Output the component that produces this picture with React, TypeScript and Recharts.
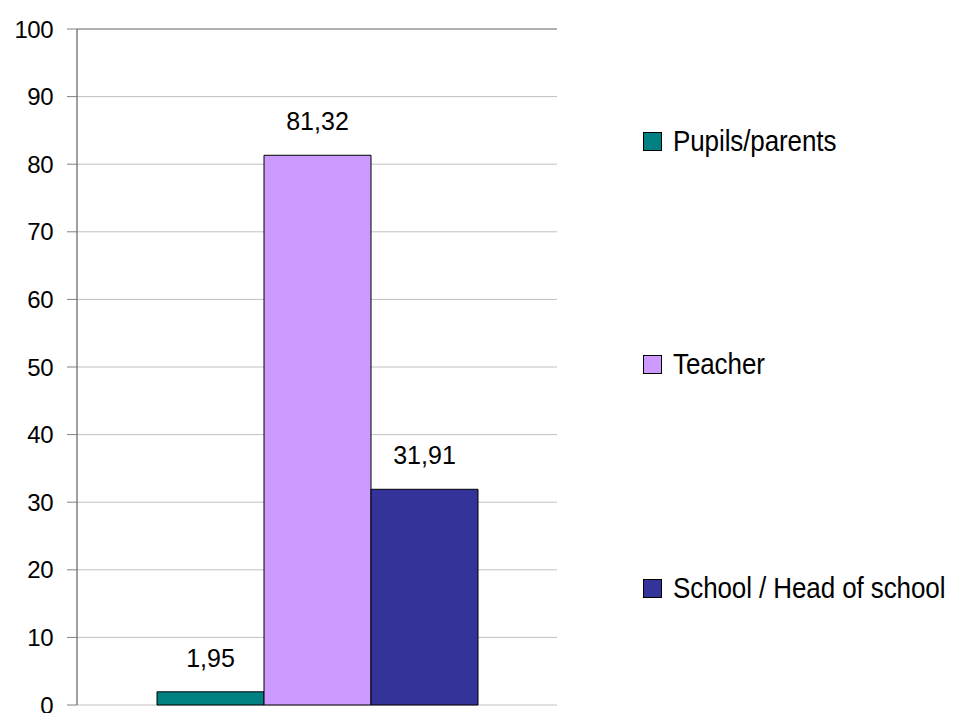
import { BarChart, Bar, XAxis, YAxis, CartesianGrid, Legend, LabelList, ReferenceLine } from "recharts";

const categories = [""];
const seriesNames = ["Pupils/parents", "Teacher", "School / Head of school"];
const seriesKeys = ["pupils", "teacher", "school"];
const seriesValues = [1.95, 81.32, 31.91];
const seriesColors = ["#008080", "#CC99FF", "#333399"];
const yTicks = [0, 10, 20, 30, 40, 50, 60, 70, 80, 90, 100];

const FONT = "'Liberation Sans', Arial, sans-serif";

const data = categories.map((name) => {
  const row: Record<string, string | number> = { name };
  seriesKeys.forEach((k, i) => {
    row[k] = seriesValues[i];
  });
  return row;
});

const fmt = (v: any) => Number(v).toFixed(2).replace(".", ",");

function LegendBox() {
  return (
    <div
      style={{
        display: "flex",
        flexDirection: "column",
        justifyContent: "space-between",
        height: "100%",
      }}
    >
      {seriesNames.map((name, i) => (
        <div key={name} style={{ display: "flex", alignItems: "center", height: 30 }}>
          <span
            style={{
              display: "inline-block",
              flexShrink: 0,
              width: 17,
              height: 17,
              background: seriesColors[i],
              border: "1px solid #000",
              marginRight: 11,
            }}
          />
          <span
            style={{
              display: "inline-block",
              fontFamily: FONT,
              fontSize: 26,
              letterSpacing: -0.1,
              color: "#000",
              whiteSpace: "nowrap",
              transform: "scaleY(1.12)",
            }}
          >
            {name}
          </span>
        </div>
      ))}
    </div>
  );
}

export default function App() {
  return (
    <div style={{ position: "absolute", left: 0, top: 0, width: 965, height: 713, background: "#fff" }}>
      <BarChart
        width={965}
        height={713}
        data={data}
        margin={{ top: 29, right: 408, bottom: 8, left: 0 }}
        barCategoryGap={80}
        barGap={0}
      >
        <CartesianGrid horizontal vertical={false} stroke="#c0c0c0" />
        <XAxis dataKey="name" tick={false} tickLine={false} height={0} axisLine={{ stroke: "#808080" }} />
        <YAxis
          domain={[0, 100]}
          ticks={yTicks}
          width={77}
          tickSize={10}
          tickMargin={14}
          interval={0}
          axisLine={{ stroke: "#404040" }}
          tickLine={{ stroke: "#808080" }}
          tick={{ fill: "#000", fontSize: 24, fontFamily: FONT, letterSpacing: -0.5 }}
        />
        <YAxis
          yAxisId="r"
          orientation="right"
          domain={[0, 100]}
          width={0}
          tick={false}
          tickLine={false}
          axisLine={{ stroke: "#808080" }}
        />
        <ReferenceLine y={100} stroke="#808080" />
        <Legend
          layout="vertical"
          align="center"
          verticalAlign="middle"
          content={() => <LegendBox />}
          wrapperStyle={{ left: 643, top: 126, width: 322, height: 477 }}
        />
        {seriesKeys.map((k, i) => (
          <Bar
            key={k}
            dataKey={k}
            name={seriesNames[i]}
            fill={seriesColors[i]}
            stroke="#000"
            strokeWidth={1}
            isAnimationActive={false}
          >
            <LabelList
              dataKey={k}
              position="top"
              offset={25}
              formatter={fmt}
              style={{ fill: "#000", fontSize: 25, fontFamily: FONT }}
            />
          </Bar>
        ))}
      </BarChart>
    </div>
  );
}
